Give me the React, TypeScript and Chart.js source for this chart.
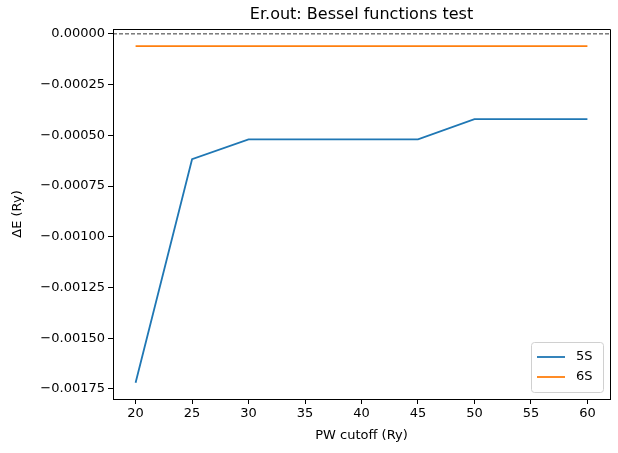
import { useEffect, useRef } from 'react';
import { Chart, registerables } from 'chart.js';

Chart.register(...registerables);

const cutoffs = [20, 25, 30, 35, 40, 45, 50, 55, 60];
const s5 = [-0.00172, -0.000618, -0.00052, -0.00052, -0.00052, -0.00052, -0.00042, -0.00042, -0.00042];
const s6 = [-0.00006, -0.00006, -0.00006, -0.00006, -0.00006, -0.00006, -0.00006, -0.00006, -0.00006];
const yTicks = [0, -0.00025, -0.0005, -0.00075, -0.001, -0.00125, -0.0015, -0.00175];
const xTicks = [20, 25, 30, 35, 40, 45, 50, 55, 60];

const FONT = 'DejaVu Sans';

const overlay = {
  id: 'overlay',
  afterDraw(chart: any) {
    const { ctx, chartArea: a } = chart;
    ctx.save();
    // frame top & right
    ctx.strokeStyle = '#000';
    ctx.lineWidth = 1;
    ctx.beginPath();
    ctx.moveTo(a.left, a.top + 0.5);
    ctx.lineTo(a.right + 0.5, a.top + 0.5);
    ctx.lineTo(a.right + 0.5, a.bottom);
    ctx.stroke();
    ctx.fillStyle = '#000';
    ctx.font = `16px ${FONT}`;
    ctx.textAlign = 'center';
    ctx.textBaseline = 'bottom';
    ctx.fillText('Er.out: Bessel functions test', (a.left + a.right) / 2, a.top - 6);
    // axis titles
    ctx.font = `13px ${FONT}`;
    ctx.textBaseline = 'middle';
    ctx.fillText('PW cutoff (Ry)', (a.left + a.right) / 2, 436);
    ctx.save();
    ctx.translate(18, (a.top + a.bottom) / 2);
    ctx.rotate(-Math.PI / 2);
    ctx.fillText('\u0394E (Ry)', 0, 0);
    ctx.restore();
    // legend
    const w = 72, h = 50, x = a.right - w - 7, y = a.bottom - h - 7;
    ctx.fillStyle = 'rgba(255,255,255,0.8)';
    ctx.strokeStyle = '#d0d0d0';
    ctx.lineWidth = 1;
    ctx.beginPath();
    ctx.roundRect(x + 0.5, y + 0.5, w, h, 3);
    ctx.fill();
    ctx.stroke();
    const items = [['5S', '#1f77b4'], ['6S', '#ff7f0e']];
    items.forEach(([label, color], i) => {
      const ly = y + 15 + i * 20;
      ctx.strokeStyle = color;
      ctx.lineWidth = 1.8;
      ctx.beginPath();
      ctx.moveTo(x + 6, ly);
      ctx.lineTo(x + 34, ly);
      ctx.stroke();
      ctx.fillStyle = '#000';
      ctx.font = `13px ${FONT}`;
      ctx.textAlign = 'left';
      ctx.textBaseline = 'middle';
      ctx.fillText(label, x + 45, ly);
    });
    ctx.restore();
  },
};

export default function App() {
  const ref = useRef<HTMLCanvasElement>(null);

  useEffect(() => {
    document.body.style.margin = '0';
    if (!ref.current) return;
    const tickFont = { family: FONT, size: 13 };
    const chart = new Chart(ref.current, {
      type: 'line',
      data: {
        datasets: [
          {
            label: 'zero',
            data: [{ x: 18, y: 0 }, { x: 62, y: 0 }],
            borderColor: '#000',
            borderWidth: 0.8,
            borderDash: [4, 2],
            pointRadius: 0,
          },
          {
            label: '5S',
            data: cutoffs.map((c, i) => ({ x: c, y: s5[i] })),
            borderColor: '#1f77b4',
            borderWidth: 1.8,
            pointRadius: 0,
          },
          {
            label: '6S',
            data: cutoffs.map((c, i) => ({ x: c, y: s6[i] })),
            borderColor: '#ff7f0e',
            borderWidth: 1.8,
            pointRadius: 0,
          },
        ],
      },
      options: {
        animation: false,
        responsive: false,
        layout: { padding: { top: 29, right: 8, left: 0, bottom: 0 } },
        plugins: { legend: { display: false }, tooltip: { enabled: false } },
        scales: {
          x: {
            type: 'linear',
            min: 18,
            max: 62,
            afterBuildTicks: (s: any) => { s.ticks = xTicks.map(v => ({ value: v })); },
            afterFit: (s: any) => { s.height = 54; },
            grid: { drawOnChartArea: false, tickLength: 5, color: '#000' },
            border: { color: '#000' },
            ticks: { color: '#000', font: tickFont, padding: 2, maxRotation: 0 },
          },
          y: {
            min: -0.0018,
            max: 0.000024,
            afterBuildTicks: (s: any) => { s.ticks = yTicks.map(v => ({ value: v })); },
            afterFit: (s: any) => { s.width = 113; },
            grid: { drawOnChartArea: false, tickLength: 5, color: '#000' },
            border: { color: '#000' },
            ticks: {
              color: '#000',
              font: tickFont,
              padding: 3,
              callback: (v: any) => Number(v).toFixed(5).replace('-', '\u2212'),
            },
          },
        },
      },
      plugins: [overlay],
    });
    return () => chart.destroy();
  }, []);

  return <canvas ref={ref} width={618} height={453} />;
}
